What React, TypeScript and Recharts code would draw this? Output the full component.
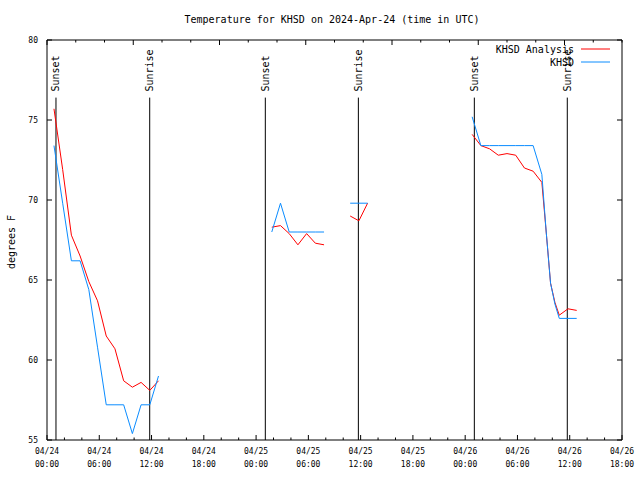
import { Line, LineChart, ReferenceDot, ReferenceLine, XAxis, YAxis } from "recharts";

// hours after 2024-04-24 00:00 UTC; null rows break the line between data gaps
const hours = [
    0.8, 1.8, 2.8, 3.8, 4.8, 5.8, 6.8, 7.8, 8.8, 9.8, 10.8, 11.8, 12.8,
    19,
    25.8, 26.8, 27.8, 28.8, 29.8, 30.8, 31.8,
    33.5,
    34.8, 35.8, 36.8,
    42,
    48.8, 49.8, 50.8, 51.8, 52.8, 53.8, 54.8, 55.8, 56.8, 57.3, 57.8, 58.3, 58.8, 59.8, 60.8,
];
const analysis = [
    75.7, 71.9, 67.8, 66.5, 64.9, 63.7, 61.5, 60.7, 58.7, 58.3, 58.6, 58.1, 58.7,
    null,
    68.3, 68.4, 67.9, 67.2, 67.9, 67.3, 67.2,
    null,
    69.0, 68.7, 69.8,
    null,
    74.1, 73.4, 73.2, 72.8, 72.9, 72.8, 72.0, 71.8, 71.1, 68.0, 64.8, 63.6, 62.8, 63.2, 63.1,
];
const khsd = [
    73.4, 69.8, 66.2, 66.2, 64.4, 60.8, 57.2, 57.2, 57.2, 55.4, 57.2, 57.2, 59.0,
    null,
    68.0, 69.8, 68.0, 68.0, 68.0, 68.0, 68.0,
    null,
    69.8, 69.8, 69.8,
    null,
    75.2, 73.4, 73.4, 73.4, 73.4, 73.4, 73.4, 73.4, 71.6, 68.0, 64.8, 63.5, 62.6, 62.6, 62.6,
];

const sunLabels = ["Sunset", "Sunrise", "Sunset", "Sunrise", "Sunset", "Sunrise"];
const sunHours = [1.03, 11.79, 25.06, 35.74, 49.05, 59.72];
const sunLineTop = 76.4;

const xTicks = Array.from({ length: 34 }, (_, i) => i * 2);
const yTicks = [55, 60, 65, 70, 75, 80];

const data = hours.map((h, i) => ({ hour: h, analysis: analysis[i], khsd: khsd[i] }));

const MONO = "'DejaVu Sans Mono', monospace";
const RED = "#ff0000";
const BLUE = "#0a8cff";

function dayLabel(v: number) {
    const day = 24 + Math.floor(v / 24);
    const hh = String(v % 24).padStart(2, "0");
    return [`04/${day}`, `${hh}:00`];
}

function BottomTick({ x, y, payload }: any) {
    const v = payload.value;
    const major = v % 6 === 0;
    const [d, t] = dayLabel(v);
    return (
        <g>
            <line x1={x} x2={x} y1={y} y2={y - (major ? 5 : 2.5)} stroke="#000" />
            {major && (
                <text x={x} y={451} textAnchor="middle" dominantBaseline="central" fontSize={8} fontFamily={MONO} fill="#000">
                    {d}
                </text>
            )}
            {major && (
                <text x={x} y={464} textAnchor="middle" dominantBaseline="central" fontSize={8} fontFamily={MONO} fill="#000">
                    {t}
                </text>
            )}
        </g>
    );
}

function TopTick({ x, y, payload }: any) {
    const major = payload.value % 6 === 0;
    return <line x1={x} x2={x} y1={y} y2={y + (major ? 5 : 2.5)} stroke="#000" />;
}

function LeftTick({ x, y, payload }: any) {
    return (
        <g>
            <line x1={x} x2={x + 5} y1={y} y2={y} stroke="#000" />
            <text x={x - 9} y={y} textAnchor="end" dominantBaseline="central" fontSize={8} fontFamily={MONO} fill="#000">
                {payload.value}
            </text>
        </g>
    );
}

function RightTick({ x, y }: any) {
    return <line x1={x} x2={x - 5} y1={y} y2={y} stroke="#000" />;
}

function SunLabel(text: string) {
    return ({ cx, cy }: any) => (
        <text
            x={cx}
            y={cy - 6}
            transform={`rotate(-90, ${cx}, ${cy - 6})`}
            textAnchor="start"
            dominantBaseline="central"
            fontSize={10}
            fontFamily={MONO}
            fill="#000"
        >
            {text}
        </text>
    );
}

export default function App() {
    return (
        <div style={{ position: "absolute", left: 0, top: 0, width: 640, height: 480, background: "#fff" }}>
            <LineChart width={640} height={480} data={data} margin={{ top: 0, right: 0, bottom: 0, left: 0 }}>
                <XAxis
                    dataKey="hour"
                    type="number"
                    domain={[0, 66]}
                    ticks={xTicks}
                    interval={0}
                    tickSize={0}
                    tickMargin={0}
                    tickLine={false}
                    tick={<BottomTick />}
                    height={40}
                    stroke="#000"
                    allowDataOverflow
                />
                <XAxis
                    xAxisId="top"
                    orientation="top"
                    type="number"
                    domain={[0, 66]}
                    ticks={xTicks}
                    interval={0}
                    tickSize={0}
                    tickMargin={0}
                    tickLine={false}
                    tick={<TopTick />}
                    height={40}
                    stroke="#000"
                    allowDataOverflow
                />
                <YAxis
                    type="number"
                    domain={[55, 80]}
                    ticks={yTicks}
                    interval={0}
                    tickSize={0}
                    tickMargin={0}
                    tickLine={false}
                    tick={<LeftTick />}
                    width={47}
                    stroke="#000"
                    allowDataOverflow
                />
                <YAxis
                    yAxisId="right"
                    orientation="right"
                    type="number"
                    domain={[55, 80]}
                    ticks={yTicks}
                    interval={0}
                    tickSize={0}
                    tickMargin={0}
                    tickLine={false}
                    tick={<RightTick />}
                    width={18}
                    stroke="#000"
                    allowDataOverflow
                />
                {sunHours.map((h, i) => (
                    <ReferenceLine
                        key={`l${i}`}
                        segment={[{ x: h, y: 55 }, { x: h, y: sunLineTop }]}
                        stroke="#000"
                        strokeWidth={1}
                    />
                ))}
                {sunHours.map((h, i) => (
                    <ReferenceDot key={`d${i}`} x={h} y={sunLineTop} r={0} shape={SunLabel(sunLabels[i])} />
                ))}
                <Line
                    dataKey="analysis"
                    type="linear"
                    stroke={RED}
                    strokeWidth={1}
                    dot={false}
                    activeDot={false}
                    connectNulls={false}
                    isAnimationActive={false}
                />
                <Line
                    dataKey="khsd"
                    type="linear"
                    stroke={BLUE}
                    strokeWidth={1}
                    dot={false}
                    activeDot={false}
                    connectNulls={false}
                    isAnimationActive={false}
                />
            </LineChart>
            <svg width={640} height={480} style={{ position: "absolute", left: 0, top: 0, pointerEvents: "none" }}>
                <text x={332} y={19} textAnchor="middle" dominantBaseline="central" fontSize={10} fontFamily={MONO} fill="#000">
                    Temperature for KHSD on 2024-Apr-24 (time in UTC)
                </text>
                <text
                    x={11}
                    y={242}
                    transform="rotate(-90, 11, 242)"
                    textAnchor="middle"
                    dominantBaseline="central"
                    fontSize={10}
                    fontFamily={MONO}
                    fill="#000"
                >
                    degrees F
                </text>
                <text x={574} y={49.5} textAnchor="end" dominantBaseline="central" fontSize={10} fontFamily={MONO} fill="#000">
                    KHSD Analysis
                </text>
                <line x1={581} x2={610} y1={49} y2={49} stroke={RED} />
                <text x={574} y={62.5} textAnchor="end" dominantBaseline="central" fontSize={10} fontFamily={MONO} fill="#000">
                    KHSD
                </text>
                <line x1={581} x2={610} y1={62} y2={62} stroke={BLUE} />
            </svg>
        </div>
    );
}
